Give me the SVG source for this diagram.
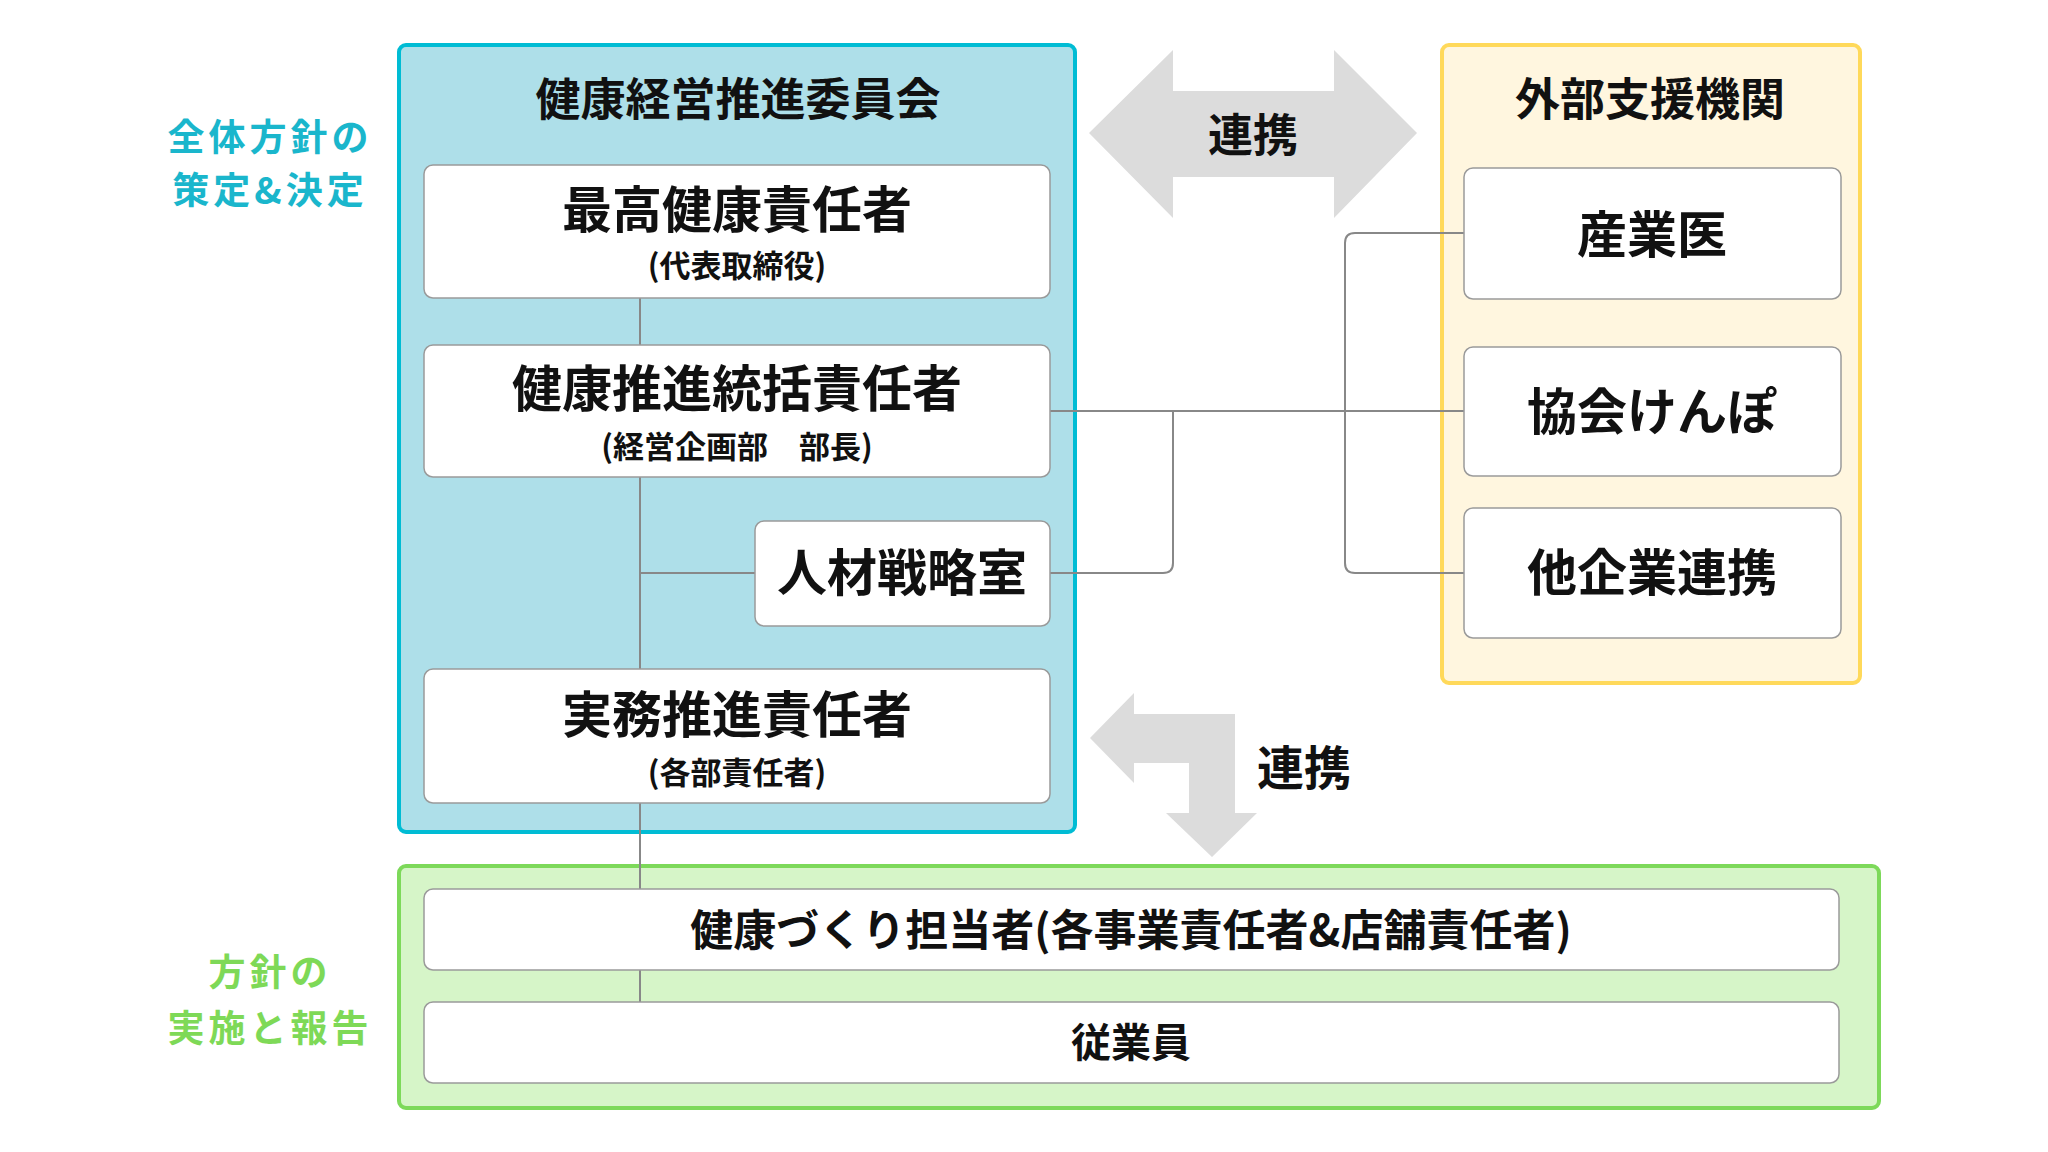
<svg xmlns="http://www.w3.org/2000/svg" width="2048" height="1152" viewBox="0 0 2048 1152">
<style>
text{font-family:"Noto Sans CJK JP","Noto Sans CJK SC",sans-serif;font-weight:700;text-anchor:middle;fill:#111}
.box{fill:#fff;stroke:#9a9a9a;stroke-width:1.5}
.big{font-size:50px}
.sub{font-size:31px}
.ttl{font-size:45px}
.side{font-size:37px;letter-spacing:4px}
.con{fill:none;stroke:#888;stroke-width:2}
.arr{fill:#dcdcdc}
</style>
<rect width="2048" height="1152" fill="#fff"/>
<g id="labels">
<text class="side" x="270" y="151" style="fill:#1ab6cc">全体方針の</text>
<text class="side" x="270" y="204" style="fill:#1ab6cc">策定&amp;決定</text>
<text class="side" x="270" y="986" style="fill:#7ed957">方針の</text>
<text class="side" x="270" y="1042" style="fill:#7ed957">実施と報告</text>
</g>
<g id="committee">
<rect x="399" y="45" width="676" height="787" rx="7" fill="#aedfe9" stroke="#00bcd4" stroke-width="4"/>
<text class="ttl" x="738" y="116">健康経営推進委員会</text>
</g>
<g id="external">
<rect x="1442" y="45" width="418" height="638" rx="7" fill="#fff6df" stroke="#ffd95a" stroke-width="4"/>
<text class="ttl" x="1650" y="116">外部支援機関</text>
</g>
<g id="field">
<rect x="399" y="866" width="1480" height="242" rx="7" fill="#d6f5c8" stroke="#7dd95a" stroke-width="4"/>
</g>
<g id="connectors">
<line class="con" x1="640" y1="298" x2="640" y2="345"/>
<line class="con" x1="640" y1="477" x2="640" y2="669"/>
<line class="con" x1="640" y1="573" x2="755" y2="573"/>
<line class="con" x1="640" y1="803" x2="640" y2="889"/>
<line class="con" x1="640" y1="970" x2="640" y2="1002"/>
<line class="con" x1="1050" y1="411" x2="1464" y2="411"/>
<path class="con" d="M1050,573 H1163 Q1173,573 1173,563 V411"/>
<path class="con" d="M1464,233 H1355 Q1345,233 1345,243 V563 Q1345,573 1355,573 H1464"/>
<polygon class="arr" points="1089,133 1173,50 1173,91 1334,91 1334,50 1417,133 1334,218 1334,177 1173,177 1173,218"/>
<polygon class="arr" points="1090,738 1134,693 1134,714 1235,714 1235,813 1257,813 1212,857 1166,813 1189,813 1189,763 1134,763 1134,783"/>
<text x="1253" y="152" style="font-size:45px">連携</text>
<text x="1304" y="785" style="font-size:47px">連携</text>
</g>
<g id="cho">
<rect class="box" x="424" y="165" width="626" height="133" rx="9"/>
<text class="big" x="737" y="228">最高健康責任者</text>
<text class="sub" x="737" y="277">(代表取締役)</text>
</g>
<g id="tokatsu">
<rect class="box" x="424" y="345" width="626" height="132" rx="9"/>
<text class="big" x="737" y="407">健康推進統括責任者</text>
<text class="sub" x="737" y="458">(経営企画部　部長)</text>
</g>
<g id="jinzai">
<rect class="box" x="755" y="521" width="295" height="105" rx="9"/>
<text class="big" x="902" y="591">人材戦略室</text>
</g>
<g id="jitsumu">
<rect class="box" x="424" y="669" width="626" height="134" rx="9"/>
<text class="big" x="737" y="733">実務推進責任者</text>
<text class="sub" x="737" y="784">(各部責任者)</text>
</g>
<g id="sangyoui">
<rect class="box" x="1464" y="168" width="377" height="131" rx="9"/>
<text class="big" x="1652" y="253">産業医</text>
</g>
<g id="kenpo">
<rect class="box" x="1464" y="347" width="377" height="129" rx="9"/>
<text class="big" x="1652" y="430">協会けんぽ</text>
</g>
<g id="takigyo">
<rect class="box" x="1464" y="508" width="377" height="130" rx="9"/>
<text class="big" x="1652" y="591">他企業連携</text>
</g>
<g id="tantou">
<rect class="box" x="424" y="889" width="1415" height="81" rx="9"/>
<text x="1131" y="946" style="font-size:43px">健康づくり担当者(各事業責任者&amp;店舗責任者)</text>
</g>
<g id="jugyoin">
<rect class="box" x="424" y="1002" width="1415" height="81" rx="9"/>
<text x="1131" y="1057" style="font-size:40px">従業員</text>
</g>
</svg>
